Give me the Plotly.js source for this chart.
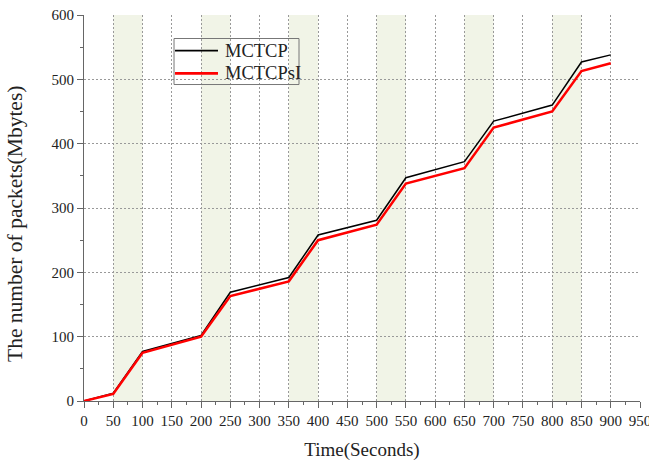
<!DOCTYPE html>
<html><head><meta charset="utf-8">
<script src="https://cdn.plot.ly/plotly-3.0.1.min.js"></script>
<style>body{margin:0;background:#fff}#c{width:649px;height:463px}</style>
</head><body><div id="c"></div>
<script>
var timeS = [0, 50, 100, 200, 250, 350, 400, 500, 550, 650, 700, 800, 850, 900];
var mctcp = [0, 12, 77, 102, 169, 192, 258, 281, 347, 372, 435, 460, 527, 538];
var mctcpsi = [0, 11, 75, 100, 163, 186, 250, 274, 338, 362, 425, 450, 513, 525];
var seriesNames = ['MCTCP', 'MCTCPsI'];
var bandStarts = [50, 200, 350, 500, 650, 800];
var bandWidth = 50;

var shapes = bandStarts.map(function(s){
  return {type:'rect', xref:'x', yref:'paper', x0:s, x1:s+bandWidth, y0:0, y1:1,
          fillcolor:'#f1f4e7', line:{width:0}, layer:'below'};
});

var traces = [
  {x:timeS, y:mctcp, mode:'lines', name:seriesNames[0], line:{color:'#000000', width:1.5}},
  {x:timeS, y:mctcpsi, mode:'lines', name:seriesNames[1], line:{color:'#ff0000', width:2.5}}
];

var ff = '"Liberation Serif", "Times New Roman", serif';

// legend drawn as box + samples + labels (paper coordinates)
var legBox = {x0:0.1619, x1:0.3867, y0:0.8199, y1:0.9391};
var legRows = [0.9075, 0.8490];
var annotations = [];
shapes.push({type:'rect', xref:'paper', yref:'paper', x0:legBox.x0, x1:legBox.x1, y0:legBox.y0, y1:legBox.y1,
             line:{color:'#777', width:1}, fillcolor:'rgba(0,0,0,0)'});
traces.forEach(function(t, i){
  shapes.push({type:'line', xref:'paper', yref:'paper', x0:0.1637, x1:0.2410, y0:legRows[i], y1:legRows[i],
               line:{color:t.line.color, width:t.line.width+0.3}});
  annotations.push({text:t.name, xref:'paper', yref:'paper', x:0.2500, y:legRows[i], xanchor:'left', yanchor:'middle',
                    showarrow:false, font:{family:ff, size:18.5, color:'#222'}});
});
annotations.push({text:'The number of packets(Mbytes)', textangle:-90, xref:'paper', yref:'paper',
                  x:0, y:0.5, xanchor:'center', yanchor:'middle', xshift:-69, yshift:-16,
                  showarrow:false, font:{family:ff, size:21.5, color:'#222'}});

var layout = {
  width:649, height:463,
  margin:{l:84, r:9, t:15, b:62},
  paper_bgcolor:'#fff', plot_bgcolor:'rgba(0,0,0,0)',
  font:{family:ff, color:'#222'},
  showlegend:false,
  shapes:shapes,
  annotations:annotations,
  xaxis:{range:[0,950], tick0:0, dtick:50, showgrid:true, gridcolor:'#999', griddash:'2px,2px', gridwidth:1,
         ticks:'outside', ticklen:6, tickcolor:'#666', showline:true, linecolor:'#666', linewidth:1,
         zeroline:false, ticklabeloverflow:'allow', tickfont:{family:ff, size:15, color:'#222'},
         minor:{dtick:25, ticks:'outside', ticklen:3, tickcolor:'#666', showgrid:false},
         title:{text:'Time(Seconds)', font:{family:ff, size:19, color:'#222'}, standoff:14}},
  yaxis:{range:[0,600], tick0:0, dtick:100, showgrid:true, gridcolor:'#999', griddash:'2px,2px', gridwidth:1,
         ticks:'outside', ticklen:6, tickcolor:'#666', showline:true, linecolor:'#666', linewidth:1,
         zeroline:false, tickfont:{family:ff, size:15, color:'#222'},
         minor:{dtick:50, ticks:'outside', ticklen:3, tickcolor:'#666', showgrid:false}}
};
Plotly.newPlot('c', traces, layout, {displayModeBar:false, staticPlot:true});
</script></body></html>
